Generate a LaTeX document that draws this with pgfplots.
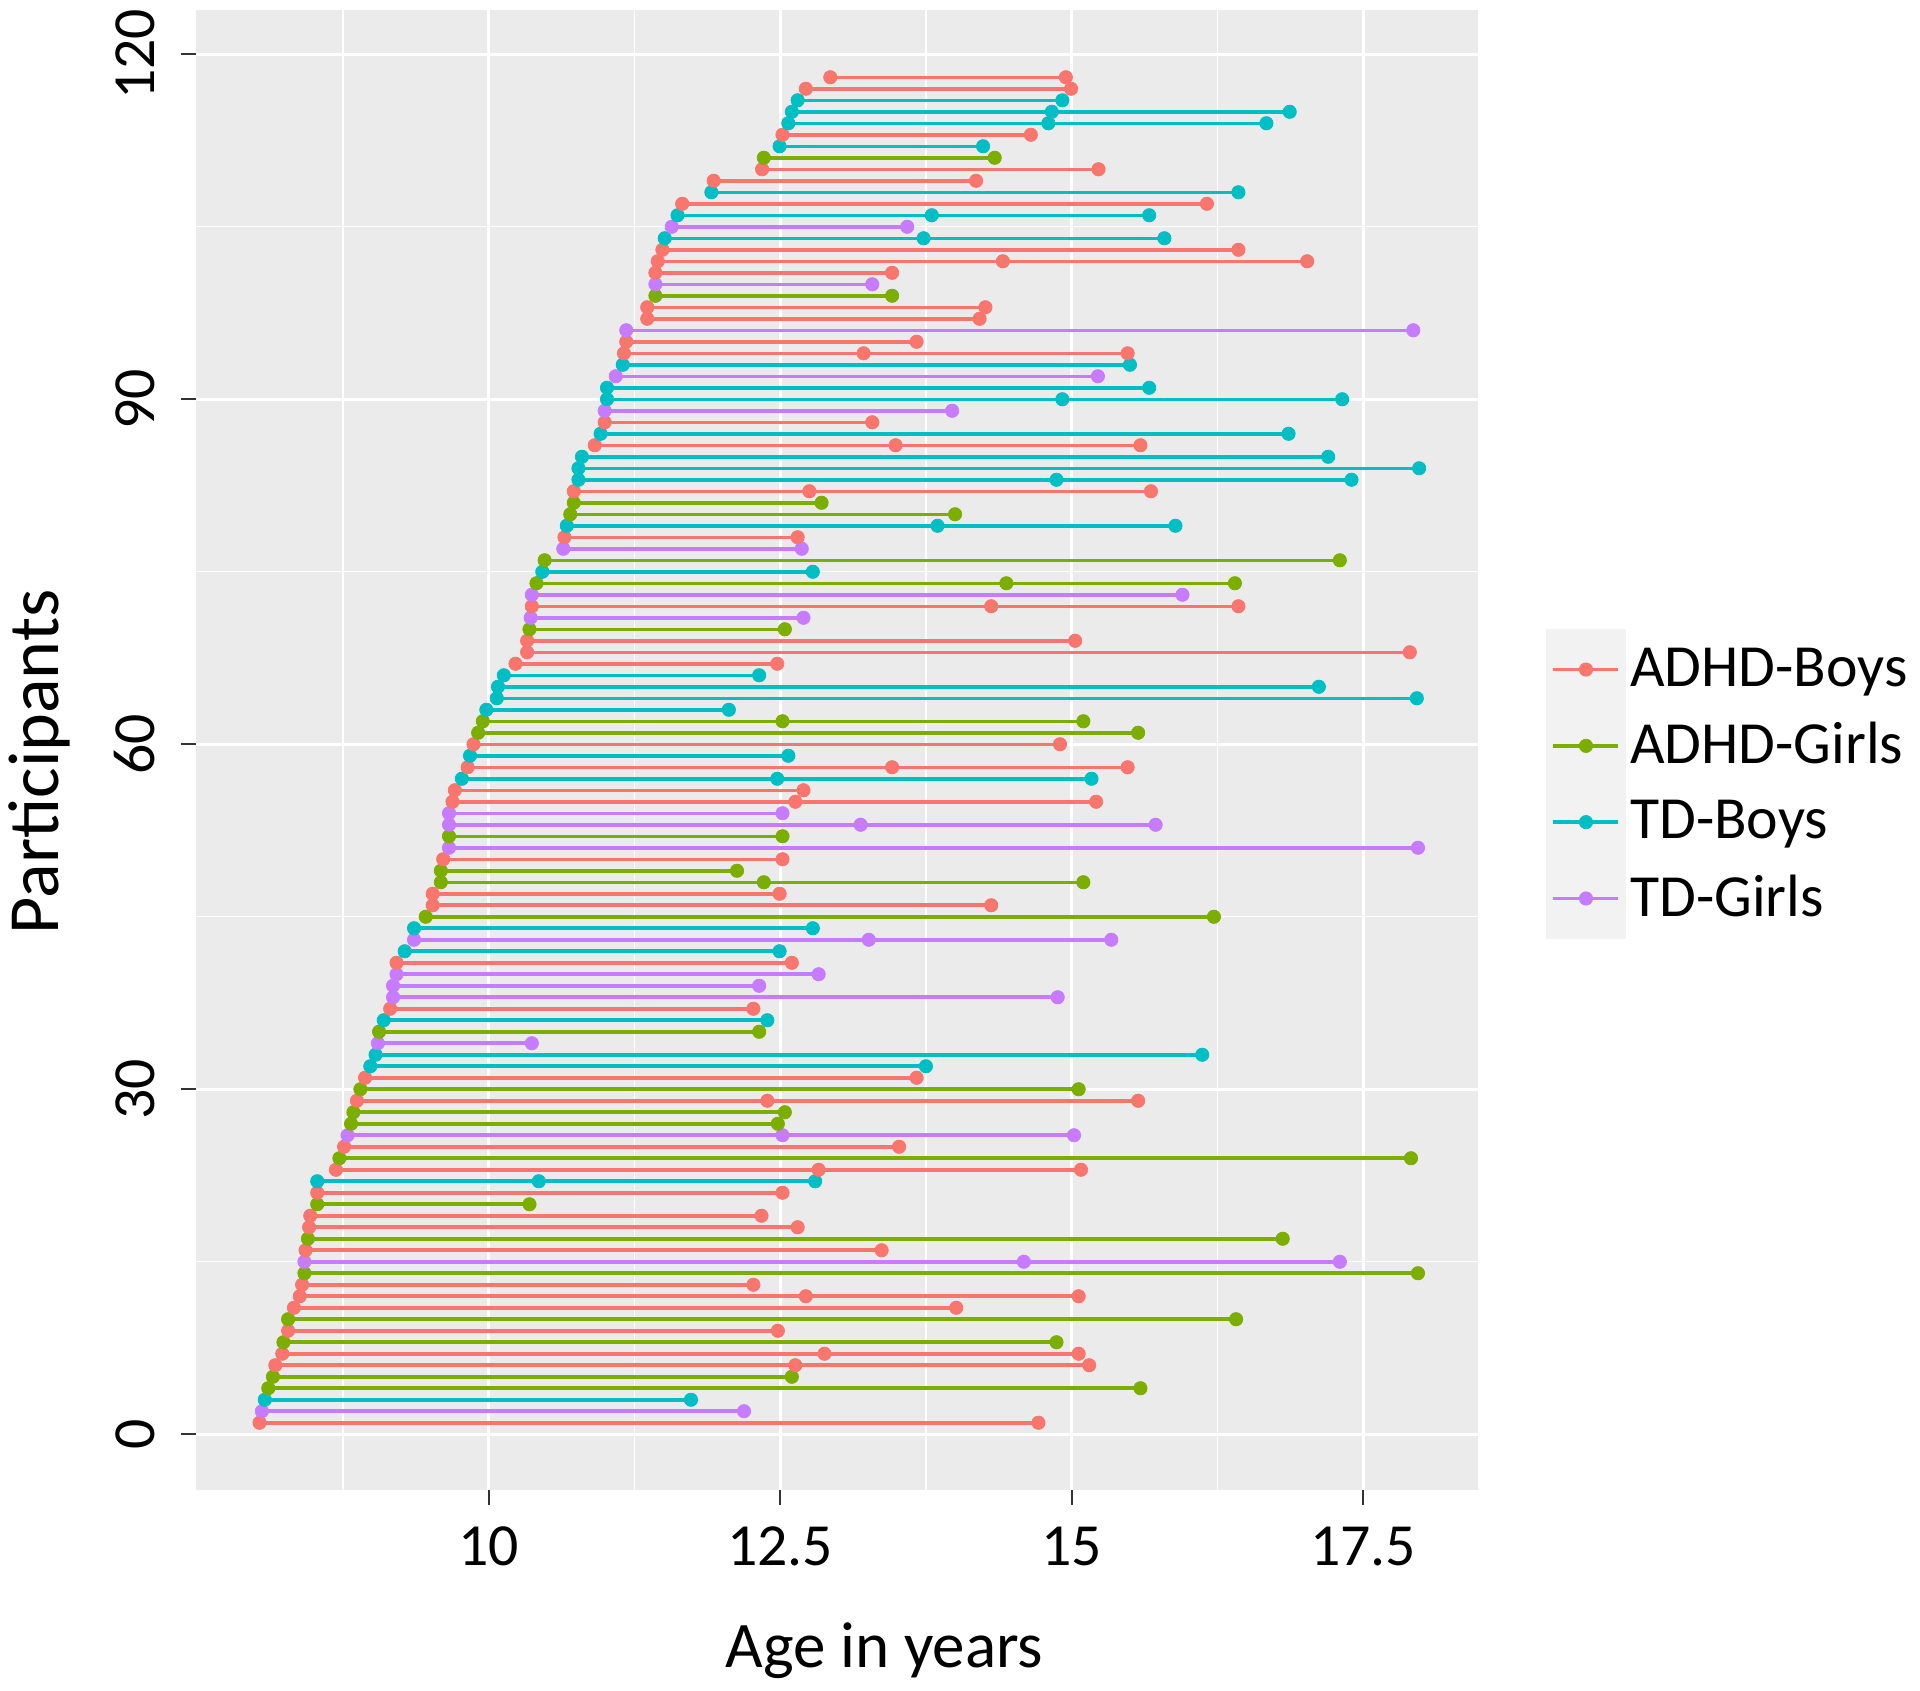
\documentclass[border=0pt]{standalone}
\usepackage{fontspec}
\setmainfont{Carlito}
\usepackage{pgfplots}
\pgfplotsset{compat=1.18}

\definecolor{cA}{HTML}{F8766D}
\definecolor{cG}{HTML}{7CAE00}
\definecolor{cT}{HTML}{00BFC4}
\definecolor{cP}{HTML}{C77CFF}
\definecolor{panelbg}{HTML}{EBEBEB}
\definecolor{legkey}{HTML}{F2F2F2}
\definecolor{tickgray}{HTML}{333333}

\pgfplotsset{
  row/.style={line width=1pt, mark=*, mark size=1.9pt, mark options={line width=0.2pt}, forget plot},
  A/.style={row, color=cA},
  G/.style={row, color=cG},
  T/.style={row, color=cT},
  P/.style={row, color=cP},
}

\begin{document}
\begin{tikzpicture}
\begin{axis}[
    at={(19.6mm,20mm)}, anchor=south west,
    scale only axis,
    width=128.2mm, height=148mm,
    xmin=7.49, xmax=18.485,
    ymin=-4.85, ymax=123.85,
    axis background/.style={fill=panelbg},
    axis line style={draw=none},
    tick pos=left,
    tick align=outside,
    major tick length=1.5mm,
    minor tick length=0pt,
    tick style={color=tickgray, line width=0.6pt},
    xtick={10,12.5,15,17.5},
    xticklabels={10,12.5,15,17.5},
    ytick={0,30,60,90,120},
    yticklabels={0,30,60,90,120},
    minor xtick={8.75,11.25,13.75,16.25},
    minor ytick={15,45,75,105},
    grid=both,
    major grid style={white, line width=0.8pt},
    minor grid style={white, line width=0.4pt},
    /pgf/number format/assume math mode=true,
    ticklabel style={font=\fontsize{17}{20}\selectfont, text=black},
    xticklabel style={anchor=north, inner sep=0pt, yshift=-2.1mm},
    yticklabel style={rotate=90, anchor=south, inner sep=0pt, yshift=2.5mm},
    xlabel={Age in years},
    ylabel={Participants},
    xlabel style={font=\fontsize{18.5}{22}\selectfont,
      at={(axis description cs:0.537,-0.1088)}, anchor=center},
    ylabel style={font=\fontsize{20.5}{24}\selectfont,
      at={(axis description cs:-0.1225,0.492)}, anchor=center},
    legend style={at={(axis description cs:1,0.5)}, anchor=west,
      xshift=6.7mm, yshift=-3.4mm, draw=none, fill=none, inner sep=0pt,
      row sep=-0.4mm, column sep=0pt,
      font=\fontsize{17}{20}\selectfont,
      nodes={inner xsep=0.4mm, inner ysep=0pt}},
    legend cell align=left,
    legend image code/.code={%
      \fill[legkey] (0mm,-3.84mm) rectangle (7.7mm,3.84mm);
      \draw[mark repeat=2, mark phase=2, #1] plot coordinates {(0.6mm,0mm) (3.85mm,0mm) (7.1mm,0mm)};
    },
    clip=false,
]
\addplot[A] coordinates {(8.035,1) (14.715,1)};
\addplot[P] coordinates {(8.055,2) (12.19,2)};
\addplot[T] coordinates {(8.08,3) (11.735,3)};
\addplot[G] coordinates {(8.11,4) (15.59,4)};
\addplot[G] coordinates {(8.15,5) (12.60,5)};
\addplot[A] coordinates {(8.17,6) (12.63,6) (15.15,6)};
\addplot[A] coordinates {(8.23,7) (12.88,7) (15.06,7)};
\addplot[G] coordinates {(8.24,8) (14.87,8)};
\addplot[A] coordinates {(8.28,9) (12.48,9)};
\addplot[G] coordinates {(8.28,10) (16.41,10)};
\addplot[A] coordinates {(8.33,11) (14.01,11)};
\addplot[A] coordinates {(8.38,12) (12.72,12) (15.06,12)};
\addplot[A] coordinates {(8.40,13) (12.27,13)};
\addplot[G] coordinates {(8.42,14) (17.97,14)};
\addplot[P] coordinates {(8.42,15) (14.59,15) (17.30,15)};
\addplot[A] coordinates {(8.43,16) (13.37,16)};
\addplot[G] coordinates {(8.45,17) (16.81,17)};
\addplot[A] coordinates {(8.46,18) (12.65,18)};
\addplot[A] coordinates {(8.47,19) (12.34,19)};
\addplot[G] coordinates {(8.53,20) (10.35,20)};
\addplot[A] coordinates {(8.53,21) (12.52,21)};
\addplot[T] coordinates {(8.53,22) (10.43,22) (12.80,22)};
\addplot[A] coordinates {(8.69,23) (12.83,23) (15.08,23)};
\addplot[G] coordinates {(8.72,24) (17.91,24)};
\addplot[A] coordinates {(8.76,25) (13.52,25)};
\addplot[P] coordinates {(8.79,26) (12.52,26) (15.02,26)};
\addplot[G] coordinates {(8.82,27) (12.48,27)};
\addplot[G] coordinates {(8.84,28) (12.54,28)};
\addplot[A] coordinates {(8.87,29) (12.39,29) (15.57,29)};
\addplot[G] coordinates {(8.90,30) (15.06,30)};
\addplot[A] coordinates {(8.94,31) (13.67,31)};
\addplot[T] coordinates {(8.985,32) (13.75,32)};
\addplot[T] coordinates {(9.03,33) (16.12,33)};
\addplot[P] coordinates {(9.05,34) (10.37,34)};
\addplot[G] coordinates {(9.06,35) (12.32,35)};
\addplot[T] coordinates {(9.10,36) (12.39,36)};
\addplot[A] coordinates {(9.155,37) (12.27,37)};
\addplot[P] coordinates {(9.18,38) (14.88,38)};
\addplot[P] coordinates {(9.18,39) (12.32,39)};
\addplot[P] coordinates {(9.21,40) (12.83,40)};
\addplot[A] coordinates {(9.21,41) (12.60,41)};
\addplot[T] coordinates {(9.28,42) (12.495,42)};
\addplot[P] coordinates {(9.36,43) (13.26,43) (15.34,43)};
\addplot[T] coordinates {(9.36,44) (12.78,44)};
\addplot[G] coordinates {(9.46,45) (16.22,45)};
\addplot[A] coordinates {(9.52,46) (14.31,46)};
\addplot[A] coordinates {(9.52,47) (12.495,47)};
\addplot[G] coordinates {(9.59,48) (12.36,48) (15.10,48)};
\addplot[G] coordinates {(9.59,49) (12.13,49)};
\addplot[A] coordinates {(9.61,50) (12.52,50)};
\addplot[P] coordinates {(9.66,51) (17.97,51)};
\addplot[G] coordinates {(9.66,52) (12.52,52)};
\addplot[P] coordinates {(9.66,53) (13.19,53) (15.72,53)};
\addplot[P] coordinates {(9.66,54) (12.52,54)};
\addplot[A] coordinates {(9.69,55) (12.63,55) (15.21,55)};
\addplot[A] coordinates {(9.71,56) (12.70,56)};
\addplot[T] coordinates {(9.77,57) (12.475,57) (15.17,57)};
\addplot[A] coordinates {(9.82,58) (13.46,58) (15.48,58)};
\addplot[T] coordinates {(9.84,59) (12.57,59)};
\addplot[A] coordinates {(9.87,60) (14.90,60)};
\addplot[G] coordinates {(9.91,61) (15.57,61)};
\addplot[G] coordinates {(9.95,62) (12.52,62) (15.10,62)};
\addplot[T] coordinates {(9.98,63) (12.06,63)};
\addplot[T] coordinates {(10.07,64) (17.96,64)};
\addplot[T] coordinates {(10.08,65) (17.12,65)};
\addplot[T] coordinates {(10.13,66) (12.32,66)};
\addplot[A] coordinates {(10.23,67) (12.475,67)};
\addplot[A] coordinates {(10.33,68) (17.90,68)};
\addplot[A] coordinates {(10.33,69) (15.03,69)};
\addplot[G] coordinates {(10.35,70) (12.54,70)};
\addplot[P] coordinates {(10.36,71) (12.70,71)};
\addplot[A] coordinates {(10.37,72) (14.31,72) (16.43,72)};
\addplot[P] coordinates {(10.37,73) (15.95,73)};
\addplot[G] coordinates {(10.41,74) (14.44,74) (16.40,74)};
\addplot[T] coordinates {(10.46,75) (12.78,75)};
\addplot[G] coordinates {(10.48,76) (17.30,76)};
\addplot[P] coordinates {(10.64,77) (12.685,77)};
\addplot[A] coordinates {(10.65,78) (12.65,78)};
\addplot[T] coordinates {(10.67,79) (13.85,79) (15.89,79)};
\addplot[G] coordinates {(10.70,80) (14.00,80)};
\addplot[G] coordinates {(10.73,81) (12.855,81)};
\addplot[A] coordinates {(10.73,82) (12.75,82) (15.68,82)};
\addplot[T] coordinates {(10.77,83) (14.87,83) (17.40,83)};
\addplot[T] coordinates {(10.77,84) (17.98,84)};
\addplot[T] coordinates {(10.80,85) (17.20,85)};
\addplot[A] coordinates {(10.91,86) (13.49,86) (15.59,86)};
\addplot[T] coordinates {(10.96,87) (16.86,87)};
\addplot[A] coordinates {(10.995,88) (13.29,88)};
\addplot[P] coordinates {(10.995,89) (13.975,89)};
\addplot[T] coordinates {(11.015,90) (14.92,90) (17.32,90)};
\addplot[T] coordinates {(11.015,91) (15.665,91)};
\addplot[P] coordinates {(11.09,92) (15.225,92)};
\addplot[T] coordinates {(11.15,93) (15.50,93)};
\addplot[A] coordinates {(11.16,94) (13.215,94) (15.48,94)};
\addplot[A] coordinates {(11.18,95) (13.67,95)};
\addplot[P] coordinates {(11.18,96) (17.93,96)};
\addplot[A] coordinates {(11.36,97) (14.21,97)};
\addplot[A] coordinates {(11.36,98) (14.26,98)};
\addplot[G] coordinates {(11.43,99) (13.46,99)};
\addplot[P] coordinates {(11.43,100) (13.29,100)};
\addplot[A] coordinates {(11.43,101) (13.46,101)};
\addplot[A] coordinates {(11.45,102) (14.41,102) (17.02,102)};
\addplot[A] coordinates {(11.49,103) (16.43,103)};
\addplot[T] coordinates {(11.51,104) (13.73,104) (15.795,104)};
\addplot[P] coordinates {(11.57,105) (13.59,105)};
\addplot[T] coordinates {(11.62,106) (13.80,106) (15.665,106)};
\addplot[A] coordinates {(11.66,107) (16.16,107)};
\addplot[T] coordinates {(11.91,108) (16.43,108)};
\addplot[A] coordinates {(11.93,109) (14.18,109)};
\addplot[A] coordinates {(12.345,110) (15.23,110)};
\addplot[G] coordinates {(12.36,111) (14.34,111)};
\addplot[T] coordinates {(12.495,112) (14.24,112)};
\addplot[A] coordinates {(12.52,113) (14.65,113)};
\addplot[T] coordinates {(12.57,114) (14.80,114) (16.67,114)};
\addplot[T] coordinates {(12.60,115) (14.83,115) (16.87,115)};
\addplot[T] coordinates {(12.65,116) (14.92,116)};
\addplot[A] coordinates {(12.72,117) (14.995,117)};
\addplot[A] coordinates {(12.93,118) (14.95,118)};

\addlegendimage{A}
\addlegendentry{ADHD-Boys}
\addlegendimage{G}
\addlegendentry{ADHD-Girls}
\addlegendimage{T}
\addlegendentry{TD-Boys}
\addlegendimage{P}
\addlegendentry{TD-Girls}
\end{axis}
\pgfresetboundingbox
\path[use as bounding box] (0,0) rectangle (192mm,169mm);
\end{tikzpicture}
\end{document}
